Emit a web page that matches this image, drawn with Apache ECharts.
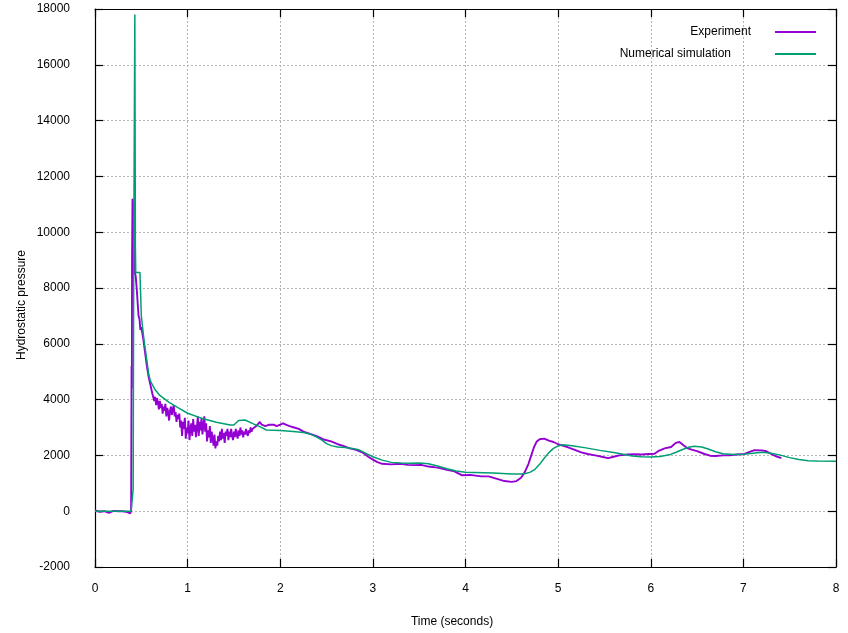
<!DOCTYPE html>
<html>
<head>
<meta charset="utf-8">
<script src="https://cdn.jsdelivr.net/npm/echarts@6/dist/echarts.min.js"></script>
<style>
  html, body { margin: 0; padding: 0; background: #fff; }
  #chart { width: 848px; height: 633px; }
</style>
</head>
<body>
<div id="chart"></div>
<script>
// experiment (pressure sensor), time in seconds
var expTime = [
  0, 0.05, 0.1, 0.15, 0.2, 0.25, 0.3, 0.35, 0.38, 0.39,
  0.395, 0.398, 0.40, 0.405, 0.41, 0.415, 0.42, 0.425, 0.43, 0.44,
  0.45, 0.46, 0.47, 0.48, 0.49, 0.50, 0.52, 0.54, 0.56, 0.58,
  0.60, 0.62, 0.63, 0.64, 0.65, 0.66, 0.67, 0.68, 0.69, 0.70,
  0.71, 0.72, 0.73, 0.74, 0.75, 0.76, 0.77, 0.78, 0.79, 0.80,
  0.81, 0.82, 0.83, 0.84, 0.85, 0.86, 0.87, 0.88, 0.89, 0.90,
  0.91, 0.92, 0.93, 0.94, 0.95, 0.96, 0.97, 0.98, 0.99, 1.00,
  1.01, 1.02, 1.03, 1.04, 1.05, 1.06, 1.07, 1.08, 1.09, 1.10,
  1.11, 1.12, 1.13, 1.14, 1.15, 1.16, 1.17, 1.18, 1.19, 1.20,
  1.21, 1.22, 1.23, 1.24, 1.25, 1.26, 1.27, 1.28, 1.29, 1.30,
  1.31, 1.32, 1.33, 1.34, 1.35, 1.36, 1.37, 1.38, 1.39, 1.40,
  1.41, 1.42, 1.43, 1.44, 1.45, 1.46, 1.47, 1.48, 1.49, 1.50,
  1.51, 1.52, 1.53, 1.54, 1.55, 1.56, 1.57, 1.58, 1.59, 1.60,
  1.61, 1.62, 1.63, 1.64, 1.65, 1.66, 1.67, 1.68, 1.69, 1.70,
  1.72, 1.74, 1.76, 1.78, 1.80, 1.82, 1.84, 1.86, 1.88, 1.90,
  1.93, 1.96, 2.00, 2.03, 2.06, 2.10, 2.15, 2.20, 2.25, 2.30,
  2.40, 2.46, 2.55, 2.62, 2.68, 2.75, 2.82, 2.89, 2.95, 3.00,
  3.05, 3.10, 3.20, 3.30, 3.38, 3.45, 3.52, 3.60, 3.70, 3.80,
  3.88, 3.96, 4.05, 4.17, 4.25, 4.35, 4.42, 4.50, 4.55, 4.60,
  4.64, 4.68, 4.71, 4.74, 4.77, 4.80, 4.85, 4.90, 4.95, 5.00,
  5.03, 5.10, 5.18, 5.25, 5.32, 5.40, 5.47, 5.54, 5.60, 5.66,
  5.75, 5.82, 5.90, 5.98, 6.04, 6.08, 6.15, 6.22, 6.27, 6.31,
  6.36, 6.40, 6.45, 6.50, 6.58, 6.64, 6.70, 6.78, 6.85, 6.93,
  7.00, 7.06, 7.12, 7.20, 7.25, 7.30, 7.36, 7.41
];
var expValue = [
  30, -20, 0, -60, 10, 0, 0, -30, -80, 0,
  5200, 4400, 9000, 11200, 10400, 11100, 8500, 9800, 8600, 8400,
  8000, 7500, 7000, 6900, 6500, 6600, 6200, 5700, 5200, 4800,
  4500, 4200, 4150, 3950, 4100, 3800, 4050, 3900, 3650, 3950,
  3700, 3850, 3500, 3750, 3600, 3850, 3400, 3700, 3550, 3250,
  3600, 3750, 3450, 3650, 3800, 3400, 3550, 3200, 3450, 3300,
  3500, 3000, 3250, 2700, 3200, 2950, 3350, 2600, 3000, 2800,
  3250, 2550, 2950, 3150, 2700, 3300, 2850, 3100, 2650, 3000,
  3400, 2700, 3200, 2900, 3350, 2750, 3050, 3400, 2850, 3150,
  2500, 2900, 2650, 3050, 2450, 2850, 2600, 2350, 2750, 2250,
  2500, 2350, 2700, 2500, 2850, 2550, 2950, 2600, 2800, 2450,
  2850, 2700, 2950, 2550, 2850, 2650, 2950, 2700, 2550, 2850,
  2650, 2950, 2750, 2600, 2900, 2700, 3000, 2750, 2900, 2650,
  2850, 2750, 2950, 2800, 2700, 2900, 2800, 3000, 2850, 2950,
  2900, 3050, 3000, 3200, 3100, 3150, 3050, 3000, 3100, 3050,
  3100, 3050, 3100, 3150, 3100, 3050, 3000, 2950, 2850, 2800,
  2680, 2580, 2500, 2400, 2340, 2250, 2200, 2100, 1950, 1850,
  1760, 1700, 1680, 1700, 1660, 1650, 1660, 1600, 1560, 1480,
  1430, 1290, 1300, 1250, 1250, 1150, 1080, 1050, 1080, 1200,
  1400, 1700, 2000, 2300, 2500, 2580, 2600, 2530, 2480, 2400,
  2370, 2300, 2200, 2110, 2050, 2000, 1950, 1900, 1950, 2000,
  2030, 2040, 2030, 2050, 2060, 2150, 2250, 2300, 2450, 2480,
  2350, 2250, 2200, 2150, 2050, 1990, 1980, 2000, 2000, 2030,
  2040, 2120, 2190, 2180, 2150, 2050, 1960, 1900
];

// numerical simulation
var simTime = [
  0, 0.2, 0.39, 0.405, 0.412, 0.418, 0.43, 0.436, 0.44, 0.485,
  0.50, 0.53, 0.56, 0.58, 0.60, 0.65, 0.70, 0.80, 0.90, 1.00,
  1.17, 1.31, 1.46, 1.50, 1.55, 1.62, 1.71, 1.78, 1.85, 2.00,
  2.14, 2.25, 2.32, 2.40, 2.45, 2.50, 2.55, 2.62, 2.70, 2.78,
  2.85, 2.92, 3.00, 3.10, 3.20, 3.30, 3.40, 3.50, 3.60, 3.70,
  3.80, 3.90, 4.00, 4.10, 4.20, 4.30, 4.40, 4.50, 4.60, 4.65,
  4.70, 4.75, 4.80, 4.85, 4.90, 4.95, 5.00, 5.05, 5.15, 5.30,
  5.45, 5.60, 5.70, 5.80, 5.90, 6.00, 6.10, 6.20, 6.28, 6.35,
  6.42, 6.47, 6.55, 6.62, 6.70, 6.78, 6.90, 7.00, 7.10, 7.20,
  7.30, 7.40, 7.50, 7.60, 7.70, 7.80, 8.00
];
var simValue = [
  0, 0, 0, 50, 800, 9000, 17800, 9500, 8560, 8560,
  7000, 6100, 5400, 4900, 4650, 4350, 4150, 3900, 3700, 3510,
  3310, 3190, 3090, 3090, 3250, 3270, 3130, 3030, 2910, 2890,
  2860, 2820, 2770, 2650, 2550, 2420, 2350, 2300, 2280, 2250,
  2200, 2080, 1950, 1830, 1750, 1730, 1720, 1730, 1700, 1620,
  1520, 1440, 1400, 1390, 1380, 1370, 1350, 1330, 1330, 1350,
  1400, 1500, 1680, 1900, 2100, 2250, 2340, 2380, 2350, 2270,
  2180, 2100, 2040, 1980, 1950, 1940, 1960, 2020, 2120, 2220,
  2300, 2330, 2300, 2230, 2130, 2060, 2030, 2040, 2080, 2110,
  2080, 2010, 1920, 1850, 1810, 1795, 1790
];

var xTicks = { min: 0, max: 8, interval: 1 };
var yTicks = { min: -2000, max: 18000, interval: 2000 };

function pairs(xs, ys) {
  return xs.map(function (x, i) { return [x, ys[i]]; });
}

var chart = echarts.init(document.getElementById('chart'));
var font = 'Liberation Sans, Arial, sans-serif';
var gridLine = { show: true, lineStyle: { color: '#b4b4b4', type: [2, 2], width: 1 } };
var border = { show: true, onZero: false, lineStyle: { color: '#000', width: 1.2 } };
var ticks = { show: true, inside: true, length: 8, lineStyle: { color: '#000', width: 1.2 } };

var option = {
  animation: false,
  backgroundColor: '#fff',
  textStyle: { fontFamily: font },
  grid: { left: 95, right: 12, top: 9, bottom: 66 },
  legend: [
    {
      data: ['Experiment'], orient: 'vertical', align: 'right', right: 27, top: 21,
      icon: 'rect', itemWidth: 41, itemHeight: 2,
      textStyle: { color: '#000', fontSize: 12, padding: [4, 19, 0, 0] }
    },
    {
      data: ['Numerical simulation'], orient: 'vertical', align: 'right', right: 27, top: 43,
      icon: 'rect', itemWidth: 41, itemHeight: 2,
      textStyle: { color: '#000', fontSize: 12, padding: [4, 39, 0, 0] }
    }
  ],
  xAxis: [
    {
      type: 'value', position: 'bottom', min: xTicks.min, max: xTicks.max, interval: xTicks.interval,
      axisLine: border, axisTick: ticks, splitLine: gridLine,
      axisLabel: { color: '#000', fontSize: 12, margin: 16 }
    },
    {
      type: 'value', position: 'top', min: xTicks.min, max: xTicks.max, interval: xTicks.interval,
      axisLine: border, axisTick: ticks, splitLine: { show: false }, axisLabel: { show: false }
    }
  ],
  yAxis: [
    {
      type: 'value', position: 'left', min: yTicks.min, max: yTicks.max, interval: yTicks.interval,
      axisLine: border, axisTick: ticks, splitLine: gridLine,
      axisLabel: { color: '#000', fontSize: 12, margin: 25, formatter: function (v) { return String(v); } }
    },
    {
      type: 'value', position: 'right', min: yTicks.min, max: yTicks.max, interval: yTicks.interval,
      axisLine: border, axisTick: ticks, splitLine: { show: false }, axisLabel: { show: false }
    }
  ],
  graphic: [
    {
      type: 'text', x: 452, y: 622,
      style: { text: 'Time (seconds)', fill: '#000', font: '12px ' + font, align: 'center', verticalAlign: 'middle' }
    },
    {
      type: 'text', x: 22, y: 305, rotation: Math.PI / 2,
      style: { text: 'Hydrostatic pressure', fill: '#000', font: '12px ' + font, align: 'center', verticalAlign: 'middle' }
    }
  ],
  series: [
    {
      name: 'Experiment', type: 'line', showSymbol: false, symbol: 'none',
      color: '#9400d3', lineStyle: { width: 1.9 },
      data: pairs(expTime, expValue)
    },
    {
      name: 'Numerical simulation', type: 'line', showSymbol: false, symbol: 'none',
      color: '#009e73', lineStyle: { width: 1.5 },
      data: pairs(simTime, simValue)
    }
  ]
};
chart.setOption(option);
</script>
</body>
</html>
